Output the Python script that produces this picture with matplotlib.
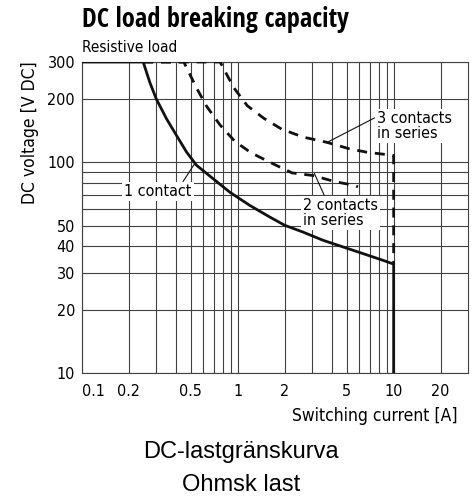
import matplotlib
matplotlib.use('Agg')
import matplotlib.pyplot as plt

# values (current in A, voltage in V DC)
one_contact_i = [0.1, 0.247, 0.273, 0.30, 0.349, 0.405, 0.469, 0.543, 0.69, 0.889,
                 1.19, 1.6, 2.0, 2.62, 3.52, 4.73, 6.36, 8.54, 10, 10]
one_contact_v = [300, 300, 239, 200, 161, 134, 112, 97, 84, 72.2,
                 62.6, 55.1, 50.3, 46.7, 42.7, 39.7, 36.9, 34.3, 32.9, 10]

two_contacts_i = [0.247, 0.45, 0.543, 0.63, 0.767, 0.957, 1.22, 1.68, 2.23, 3.03, 4.25, 5.62, 5.9]
two_contacts_v = [300, 300, 226, 185, 151, 126, 111, 98.6, 89.2, 86.7, 80.9, 77.8, 76.5]

three_contacts_i = [0.247, 0.77, 0.94, 1.15, 1.47, 1.91, 2.62, 3.7, 5.2, 6.7, 10, 10]
three_contacts_v = [300, 300, 227, 186, 162, 144, 132, 124.8, 116.1, 111.9, 108, 32.9]

x_ticks = [0.1, 0.2, 0.5, 1, 2, 5, 10, 20]
x_tick_labels = ['0.1', '0.2', '0.5', '1', '2', '5', '10', '20']
x_minor = [0.3, 0.4, 0.6, 0.7, 0.8, 0.9, 3, 4, 6, 7, 8, 9]
y_ticks = [10, 20, 30, 40, 50, 100, 200, 300]
y_minor = [60, 70, 80, 90]

cond = dict(family='DejaVu Sans', fontstretch='condensed')
plain = ['Liberation Sans', 'DejaVu Sans']

fig = plt.figure(figsize=(4.76, 4.97), dpi=100)
ax = fig.add_axes([82 / 476, 1 - 373 / 497, 386 / 476, 311 / 497])

ax.set_xscale('log')
ax.set_yscale('log')
ax.set_xlim(0.1, 30)
ax.set_ylim(10, 300)

ax.set_xticks(x_ticks)
ax.set_xticklabels(x_tick_labels, fontsize=11.5, **cond)
ax.set_xticks(x_minor, minor=True)
ax.set_xticklabels([], minor=True)
ax.set_yticks(y_ticks)
ax.set_yticklabels([str(v) for v in y_ticks], fontsize=11.5, **cond)
ax.set_yticks(y_minor, minor=True)
ax.set_yticklabels([], minor=True)
ax.xaxis.get_ticklabels()[0].set_horizontalalignment('left')
ax.tick_params(which='both', length=0)
ax.tick_params(axis='x', pad=8)
ax.tick_params(axis='y', pad=5)

ax.grid(which='both', color='#404040', lw=0.8)
ax.set_axisbelow(True)
for s in ax.spines.values():
    s.set_color('#404040')
    s.set_linewidth(0.8)

ax.plot(one_contact_i, one_contact_v, color='#111111', lw=2.0, solid_capstyle='butt', zorder=4)
ax.plot(two_contacts_i, two_contacts_v, color='#111111', lw=2.0, dashes=(3.6, 2.8), zorder=4)
ax.plot(three_contacts_i, three_contacts_v, color='#111111', lw=2.0, dashes=(3.6, 2.8), zorder=4)

box = dict(facecolor='white', edgecolor='none', pad=1.5)


def leader(rx, ry):
    return dict(arrowstyle='-', color='#111111', lw=0.8, shrinkA=0, shrinkB=0, relpos=(rx, ry))


ax.annotate('1 contact', xy=(0.53, 99), xytext=(0.187, 73), ha='left', va='center',
            fontsize=11.5, bbox=box, arrowprops=leader(0.85, 1.0), zorder=5, **cond)
ax.annotate('2 contacts\nin series', xy=(3.1, 88.6), xytext=(2.61, 57.6), ha='left', va='center',
            fontsize=11.5, linespacing=1.05, bbox=box, arrowprops=leader(0.3, 1.0), zorder=5, **cond)
ax.annotate('3 contacts\nin series', xy=(3.7, 124), xytext=(7.78, 149), ha='left', va='center',
            fontsize=11.5, linespacing=1.05, bbox=box, arrowprops=leader(0.0, 0.8), zorder=5, **cond)

fig.text(82 / 476, 1 - 6 / 497, 'DC load breaking capacity', family='Open Sans Condensed',
         fontsize=19, fontweight='bold', ha='left', va='top')
fig.text(82 / 476, 1 - 40 / 497, 'Resistive load', fontsize=11, ha='left', va='top', **cond)
fig.text(30 / 476, 1 - 133 / 497, 'DC voltage [V DC]', fontsize=12.5,
         rotation=90, ha='center', va='center', **cond)
fig.text(458 / 476, 1 - 416 / 497, 'Switching current [A]', fontsize=12.5,
         ha='right', va='center', **cond)
fig.text(241 / 476, 1 - 452 / 497, 'DC-lastgränskurva', family=plain, fontsize=17,
         ha='center', va='center')
fig.text(241 / 476, 1 - 485 / 497, 'Ohmsk last', family=plain, fontsize=17,
         ha='center', va='center')

fig.savefig('out.png', dpi=100)
